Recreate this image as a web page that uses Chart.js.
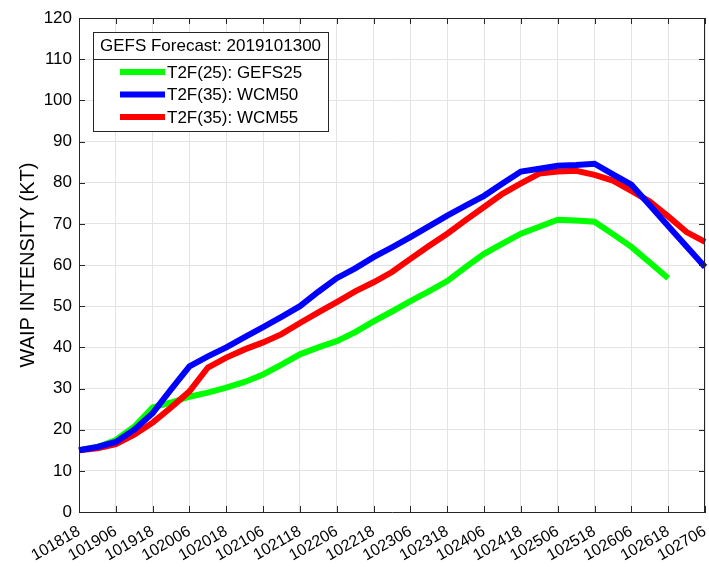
<!DOCTYPE html>
<html lang="en">
  <head>
    <meta charset="utf-8" />
    <title>WAIP intensity</title>
    <style>
      * {
        margin: 0;
        padding: 0;
      }
      body {
        background: white;
      }
    </style>
  </head>
  <body>
    <canvas id="myChart" width="709" height="567"></canvas>

    <script src="https://cdn.jsdelivr.net/npm/chart.js@4.4.0/dist/chart.umd.min.js"></script>

    <script>
      // 6-hourly valid times (MMDDHH); only every other one is labelled
      const times = [
        "101818", "101900", "101906", "101912", "101918", "102000", "102006",
        "102012", "102018", "102100", "102106", "102112", "102118", "102200",
        "102206", "102212", "102218", "102300", "102306", "102312", "102318",
        "102400", "102406", "102412", "102418", "102500", "102506", "102512",
        "102518", "102600", "102606", "102612", "102618", "102700", "102706",
      ];

      const gefs25 = [
        15, 15.8, 17.5, 20.7, 25.4, 26.6, 28, 29, 30.2, 31.6, 33.4, 35.8, 38.3,
        40, 41.5, 43.7, 46.3, 48.7, 51.2, 53.6, 56.1, 59.5, 62.7, 65.2, 67.6,
        69.3, 71, 70.8, 70.5, 67.5, 64.4, 60.6, 56.8,
      ];
      const wcm50 = [
        15, 15.8, 17, 20, 24, 29.8, 35.4, 37.8, 40, 42.5, 44.9, 47.4, 50, 53.5,
        56.8, 59.2, 61.9, 64.3, 66.8, 69.4, 72, 74.4, 76.8, 79.8, 82.7, 83.4,
        84.1, 84.3, 84.6, 82, 79.5, 74.5, 69.5, 64.5, 59.5,
      ];
      const wcm55 = [
        15, 15.5, 16.5, 18.8, 21.7, 25.4, 29.3, 35.1, 37.5, 39.5, 41.2, 43.2,
        45.9, 48.5, 51, 53.6, 55.8, 58.3, 61.5, 64.6, 67.6, 70.9, 74.1, 77.3,
        79.8, 82.2, 82.7, 82.9, 81.9, 80.5, 78, 75.4, 71.8, 68, 65.6,
      ];

      const legendTitle = "GEFS Forecast: 2019101300";
      const axisColor = "#262626";
      const gridColor = "#e3e3e3";
      const font = "'Liberation Sans', Arial, sans-serif";

      const data = {
        labels: times,
        datasets: [
          { label: "T2F(25): GEFS25", data: gefs25, borderColor: "#00ff00", order: 2 },
          { label: "T2F(35): WCM50", data: wcm50, borderColor: "#0000ff", order: 0 },
          { label: "T2F(35): WCM55", data: wcm55, borderColor: "#ff0000", order: 1 },
        ],
      };

      // box on top/right, inward tick marks, and the boxed legend
      const matlabFrame = {
        id: "matlabFrame",
        afterDatasetsDraw(chart) {
          const { ctx, chartArea, scales } = chart;
          const { left, right, top, bottom } = chartArea;
          ctx.save();
          ctx.strokeStyle = axisColor;
          ctx.lineWidth = 1;
          ctx.beginPath();
          ctx.moveTo(left, top + 0.5);
          ctx.lineTo(right, top + 0.5);
          ctx.moveTo(right - 0.5, top);
          ctx.lineTo(right - 0.5, bottom);
          scales.y.ticks.forEach((t) => {
            const y = Math.round(scales.y.getPixelForValue(t.value)) + 0.5;
            ctx.moveTo(left, y);
            ctx.lineTo(left + 6, y);
            ctx.moveTo(right, y);
            ctx.lineTo(right - 6, y);
          });
          for (let i = 0; i < times.length; i += 2) {
            const x = Math.round(scales.x.getPixelForValue(i)) + 0.5;
            ctx.moveTo(x, bottom);
            ctx.lineTo(x, bottom - 6);
            ctx.moveTo(x, top);
            ctx.lineTo(x, top + 6);
          }
          ctx.stroke();

          // legend
          const bx = left + 14;
          const by = top + 14;
          const bw = 235;
          const bh = 99;
          ctx.fillStyle = "white";
          ctx.fillRect(bx, by, bw, bh);
          ctx.strokeStyle = axisColor;
          ctx.strokeRect(bx + 0.5, by + 0.5, bw, bh);
          ctx.beginPath();
          ctx.moveTo(bx, by + 27.5);
          ctx.lineTo(bx + bw, by + 27.5);
          ctx.stroke();

          ctx.fillStyle = "#000";
          ctx.font = "17px " + font;
          ctx.textAlign = "center";
          ctx.textBaseline = "middle";
          ctx.fillText(legendTitle, bx + bw / 2, by + 14);

          ctx.textAlign = "left";
          chart.data.datasets.forEach((ds, i) => {
            const y = by + 40 + i * 22.5;
            ctx.strokeStyle = ds.borderColor;
            ctx.lineWidth = 6;
            ctx.beginPath();
            ctx.moveTo(bx + 27, y);
            ctx.lineTo(bx + 72, y);
            ctx.stroke();
            ctx.fillStyle = "#000";
            ctx.fillText(ds.label, bx + 74, y + 1);
          });
          ctx.restore();
        },
      };

      const config = {
        type: "line",
        data: data,
        options: {
          responsive: false,
          animation: false,
          layout: { padding: { top: 18, right: 4, left: 0, bottom: 0 } },
          elements: {
            line: { borderWidth: 6, tension: 0, fill: false },
            point: { radius: 0 },
          },
          plugins: {
            legend: { display: false },
            tooltip: { enabled: false },
          },
          scales: {
            x: {
              offset: false,
              grid: {
                drawTicks: false,
                color: (ctx) => (ctx.index % 2 === 0 ? gridColor : "rgba(0,0,0,0)"),
              },
              border: { color: axisColor },
              ticks: {
                autoSkip: false,
                maxRotation: 30,
                minRotation: 30,
                padding: 10,
                color: "#000",
                font: { size: 16, family: font },
                callback: (v, i) => (i % 2 === 0 ? times[i] : ""),
              },
              afterFit: (scale) => {
                scale.height = 55;
                scale.paddingRight = 0;
                scale.paddingLeft = 0;
              },
            },
            y: {
              min: 0,
              max: 120,
              grid: { drawTicks: false, color: gridColor },
              border: { color: axisColor },
              ticks: {
                stepSize: 10,
                padding: 7,
                color: "#000",
                font: { size: 17, family: font },
              },
              title: {
                display: true,
                text: "WAIP INTENSITY (KT)",
                color: "#000",
                font: { size: 20, family: font },
                padding: { top: 16, bottom: 0 },
              },
              afterFit: (scale) => {
                scale.width = 79;
              },
            },
          },
        },
        plugins: [matlabFrame],
      };

      const myChart = new Chart(document.getElementById("myChart"), config);
    </script>
  </body>
</html>
